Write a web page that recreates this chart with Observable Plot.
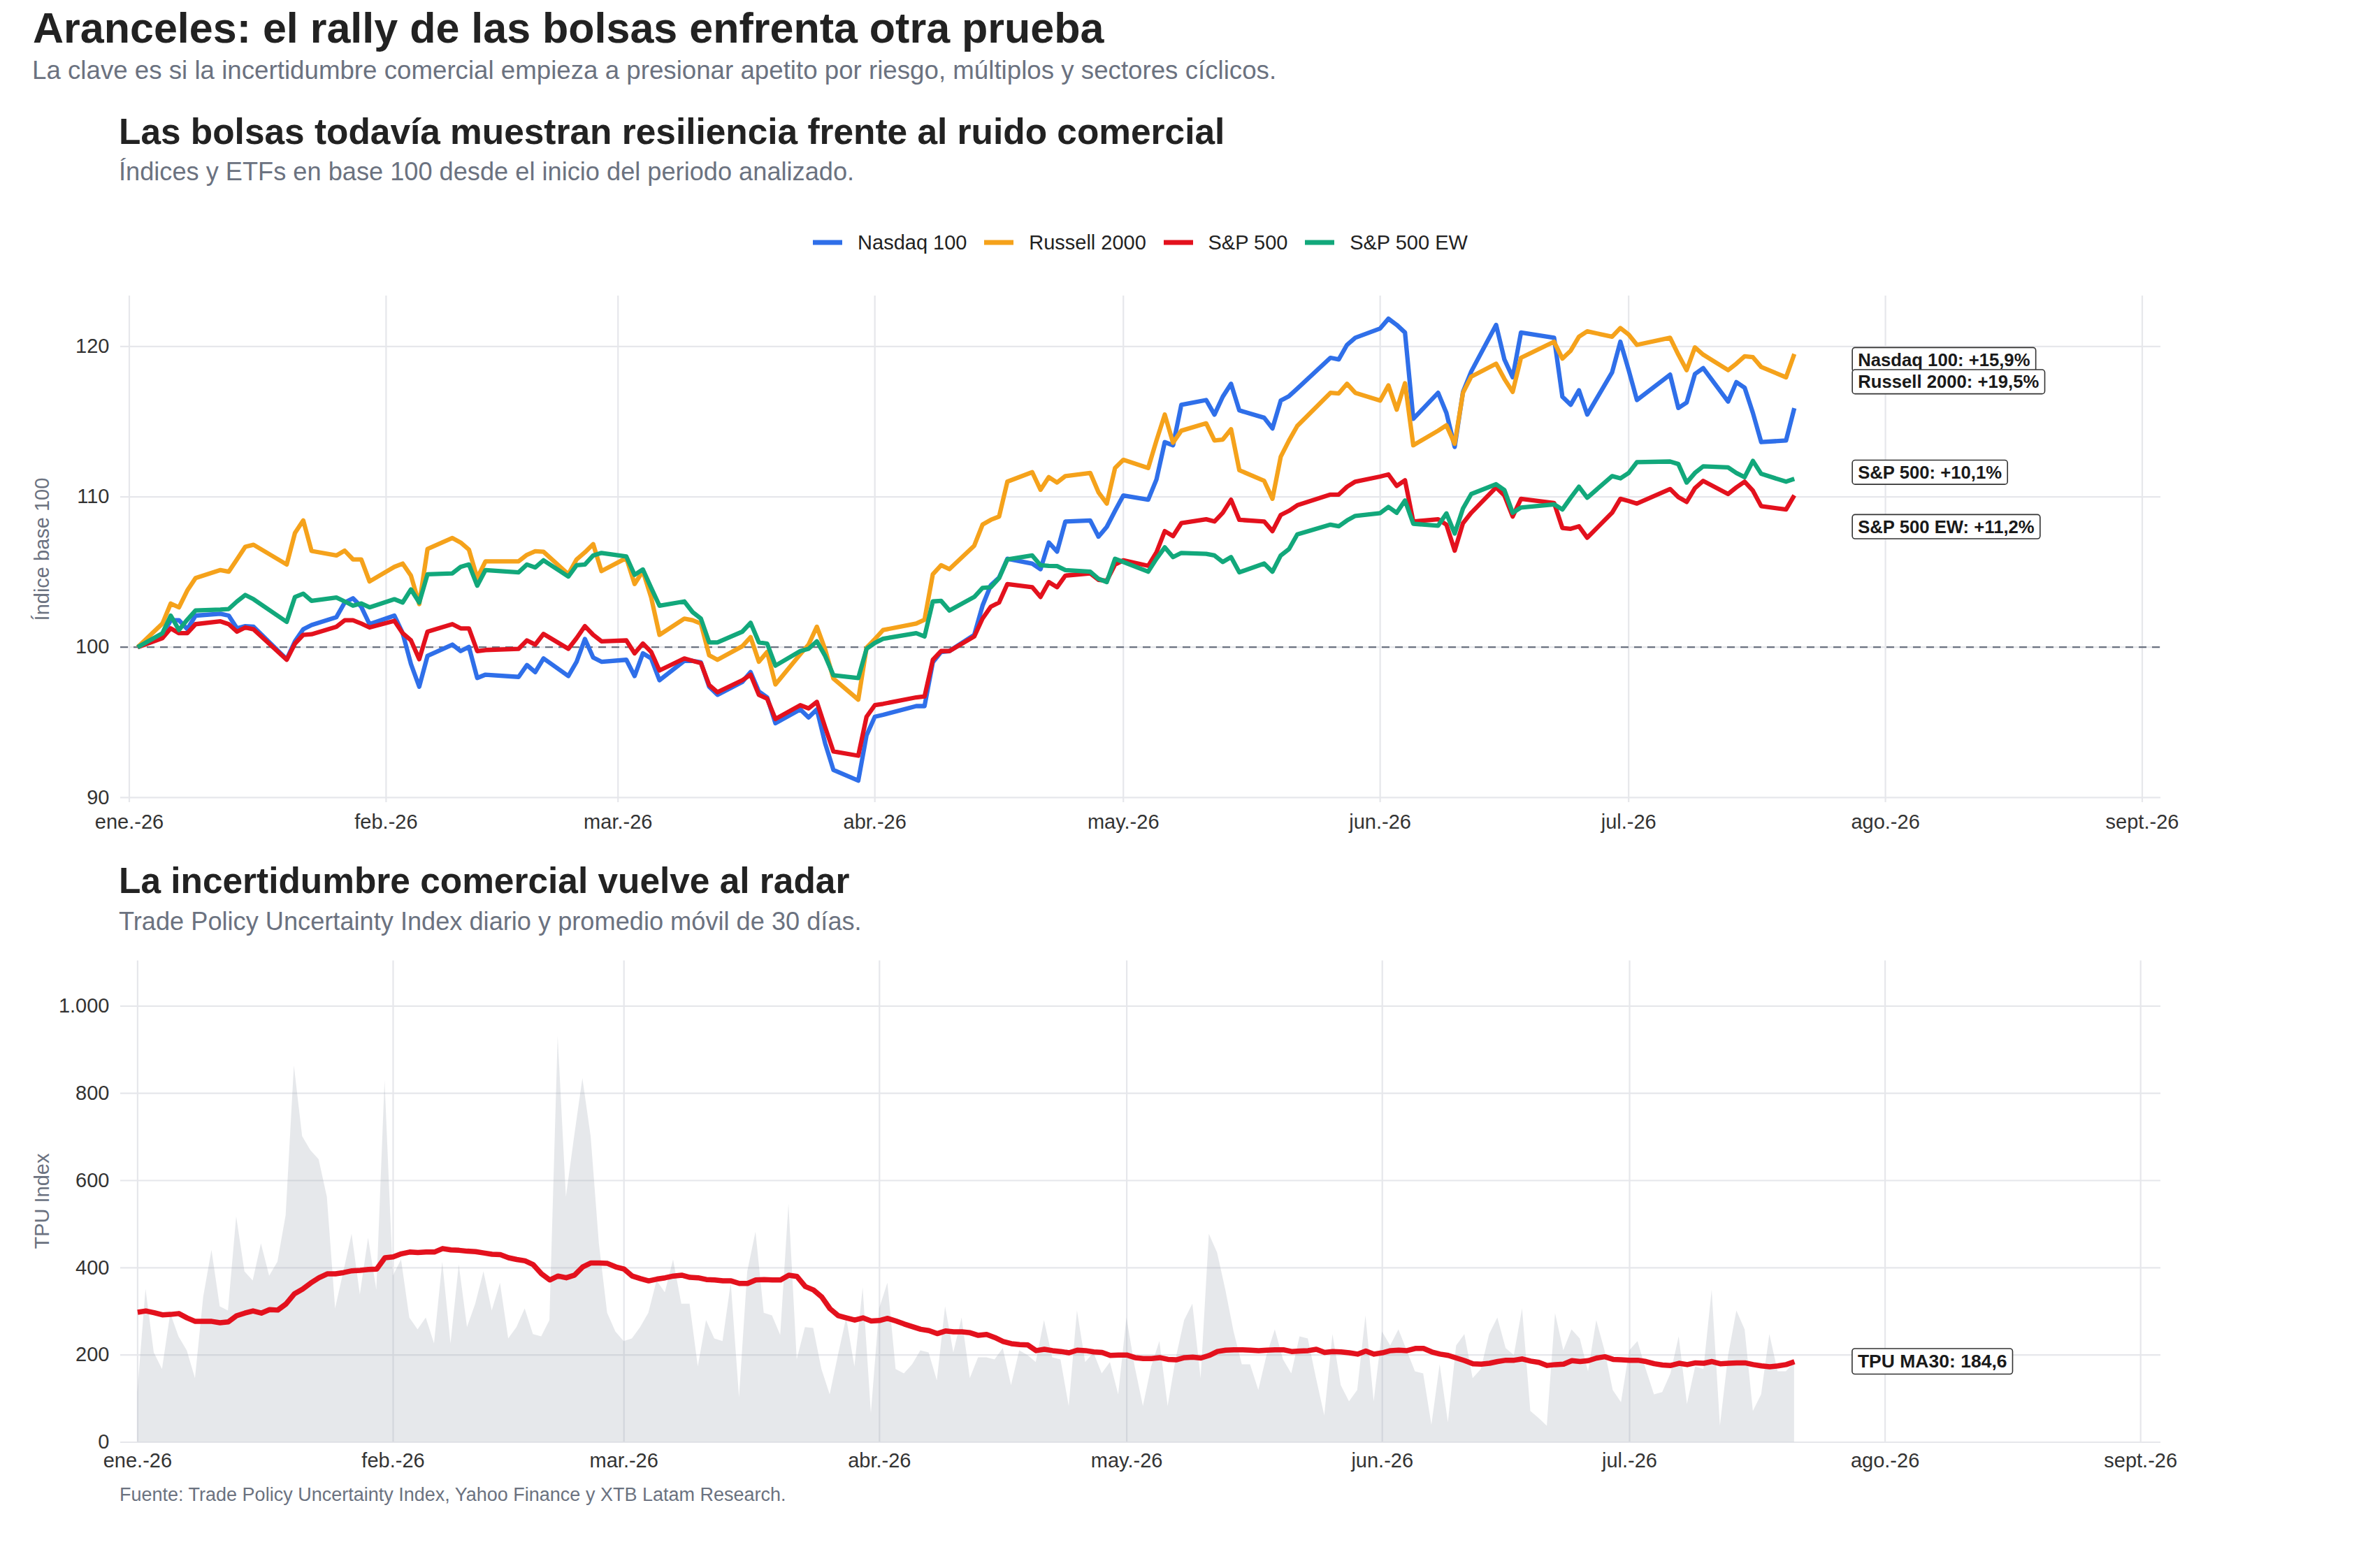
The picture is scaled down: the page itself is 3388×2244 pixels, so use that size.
<!DOCTYPE html>
<html lang="es">
<head>
<meta charset="utf-8">
<title>Aranceles: el rally de las bolsas enfrenta otra prueba</title>
<script src="https://cdn.jsdelivr.net/npm/d3@7"></script>
<script src="https://cdn.jsdelivr.net/npm/@observablehq/plot@0.6"></script>
<style>
  html, body { margin: 0; padding: 0; background: #fff; }
  #page {
    position: relative; width: 3388px; height: 2244px; background: #fff; overflow: hidden;
    font-family: "Liberation Sans", Arial, Helvetica, sans-serif; color: #222;
  }
  .t { position: absolute; white-space: nowrap; line-height: 1; }
  .title { left: 47px; top: 10.4px; font-size: 61px; font-weight: bold; color: #222; }
  .subtitle { left: 46px; top: 83.2px; font-size: 36.7px; color: #6b7280; }
  .ptitle { left: 170px; font-size: 51.4px; font-weight: bold; color: #222; }
  .psub { left: 170px; font-size: 36.2px; color: #6b7280; }
  .caption { left: 171px; top: 2126.1px; font-size: 27px; color: #6b7280; }
  .ylab { font-size: 29px; color: #6b7280; transform: translate(-50%, -50%) rotate(-90deg); }
  #legend {
    position: absolute; left: 172px; width: 2919px; top: 332.75px; height: 29px;
    display: flex; justify-content: center; align-items: center;
    font-size: 29px; line-height: 1; color: #222;
  }
  #legend .item { display: flex; align-items: center; margin: 0 12.35px; }
  #legend .item svg { margin-right: 22px; display: block; }
  .chart { position: absolute; left: 0; }
</style>
</head>
<body>
<div id="page">
  <div class="t title">Aranceles: el rally de las bolsas enfrenta otra prueba</div>
  <div class="t subtitle">La clave es si la incertidumbre comercial empieza a presionar apetito por riesgo, múltiplos y sectores cíclicos.</div>

  <div class="t ptitle" style="top:162.5px">Las bolsas todavía muestran resiliencia frente al ruido comercial</div>
  <div class="t psub" style="top:228.4px">Índices y ETFs en base 100 desde el inicio del periodo analizado.</div>
  <div id="legend"></div>
  <div class="t ylab" style="left:60px; top:785.5px">Índice base 100</div>
  <div id="chart-top" class="chart" style="top:400px"></div>

  <div class="t ptitle" style="top:1234.5px">La incertidumbre comercial vuelve al radar</div>
  <div class="t psub" style="top:1301.2px">Trade Policy Uncertainty Index diario y promedio móvil de 30 días.</div>
  <div class="t ylab" style="left:60px; top:1719px">TPU Index</div>
  <div id="chart-bottom" class="chart" style="top:1350px"></div>

  <div class="t caption">Fuente: Trade Policy Uncertainty Index, Yahoo Finance y XTB Latam Research.</div>
</div>

<script>
// ---------------------------------------------------------------------------
// Data
// ---------------------------------------------------------------------------

// Trading sessions (US market calendar, 2026)
const sessions = [
  "2026-01-02","2026-01-05","2026-01-06","2026-01-07","2026-01-08","2026-01-09","2026-01-12","2026-01-13","2026-01-14","2026-01-15","2026-01-16","2026-01-20","2026-01-21","2026-01-22","2026-01-23","2026-01-26","2026-01-27","2026-01-28","2026-01-29","2026-01-30",
  "2026-02-02","2026-02-03","2026-02-04","2026-02-05","2026-02-06","2026-02-09","2026-02-10","2026-02-11","2026-02-12","2026-02-13","2026-02-17","2026-02-18","2026-02-19","2026-02-20","2026-02-23","2026-02-24","2026-02-25","2026-02-26","2026-02-27",
  "2026-03-02","2026-03-03","2026-03-04","2026-03-05","2026-03-06","2026-03-09","2026-03-10","2026-03-11","2026-03-12","2026-03-13","2026-03-16","2026-03-17","2026-03-18","2026-03-19","2026-03-20","2026-03-23","2026-03-24","2026-03-25","2026-03-26","2026-03-27","2026-03-30","2026-03-31",
  "2026-04-01","2026-04-02","2026-04-06","2026-04-07","2026-04-08","2026-04-09","2026-04-10","2026-04-13","2026-04-14","2026-04-15","2026-04-16","2026-04-17","2026-04-20","2026-04-21","2026-04-22","2026-04-23","2026-04-24","2026-04-27","2026-04-28","2026-04-29","2026-04-30",
  "2026-05-01","2026-05-04","2026-05-05","2026-05-06","2026-05-07","2026-05-08","2026-05-11","2026-05-12","2026-05-13","2026-05-14","2026-05-15","2026-05-18","2026-05-19","2026-05-20","2026-05-21","2026-05-22","2026-05-26","2026-05-27","2026-05-28","2026-05-29",
  "2026-06-01","2026-06-02","2026-06-03","2026-06-04","2026-06-05","2026-06-08","2026-06-09","2026-06-10","2026-06-11","2026-06-12","2026-06-15","2026-06-16","2026-06-17","2026-06-18","2026-06-22","2026-06-23","2026-06-24","2026-06-25","2026-06-26","2026-06-29","2026-06-30",
  "2026-07-01","2026-07-02","2026-07-06","2026-07-07","2026-07-08","2026-07-09","2026-07-10","2026-07-13","2026-07-14","2026-07-15","2026-07-16","2026-07-17","2026-07-20","2026-07-21"
];

// Index levels rebased to 100 on the first session
const nasdaq100 = [
  100, 100.8, 101.79, 101.79, 101.2, 102.1, 102.22, 102.1, 101.25, 101.4, 101.36, 99.2, 100.39, 101.19, 101.47, 102.0, 102.97, 103.25, 102.69, 101.53,
  102.1, 100.93, 98.88, 97.37, 99.42, 100.17, 99.74, 100.02, 97.95, 98.17, 98.02, 98.81, 98.34, 99.25, 98.08, 99.03, 100.54, 99.31, 99.03,
  99.16, 98.08, 99.59, 99.25, 97.8, 99.09, 99.09, 98.99, 97.37, 96.83, 97.69, 98.34, 97.05, 96.66, 94.94, 95.86, 95.32, 95.86, 93.6, 91.83, 91.12, 94.14,
  95.37, 95.5, 96.08, 96.08, 98.99, 99.68, 99.74, 100.82, 102.76, 104.12, 104.63, 105.88, 105.56, 105.19, 106.96, 106.36, 108.36, 108.43, 107.35, 108.0, 109.07,
  110.09, 109.81, 111.16, 113.64, 113.43, 116.12, 116.44, 115.47, 116.66, 117.52, 115.75, 115.26, 114.55, 116.4, 116.7, 117.2, 119.25, 119.14, 120.11, 120.58,
  121.2, 121.85, 121.44, 120.93, 115.19, 116.92, 115.58, 113.32, 116.98, 118.34, 121.44, 119.14, 117.95, 120.93, 120.58, 116.66, 116.12, 117.09, 115.47, 118.28, 120.32,
  118.43, 116.44, 118.13, 115.91, 116.27, 118.17, 118.56, 116.34, 117.63, 117.26, 115.58, 113.64, 113.75, 115.9
];
const russell2000 = [
  100, 101.57, 102.9, 102.65, 103.77, 104.6, 105.13, 105.02, 105.84, 106.68, 106.81, 105.5, 107.6, 108.43, 106.4, 106.1, 106.42, 105.84, 105.84, 104.37,
  105.34, 105.56, 104.76, 102.87, 106.53, 107.26, 106.96, 106.49, 104.6, 105.71, 105.71, 106.14, 106.38, 106.35, 104.85, 105.84, 106.31, 106.85, 105.06,
  105.93, 104.2, 105.06, 103.3, 100.82, 101.9, 101.79, 101.57, 99.46, 99.16, 100.06, 100.67, 99.03, 99.68, 97.52, 99.53, 100.17, 101.36, 99.85, 97.91, 96.51, 99.96,
  100.54, 101.14, 101.57, 101.83, 104.85, 105.45, 105.19, 106.75, 108.15, 108.47, 108.69, 111.01, 111.64, 110.47, 111.31, 110.95, 111.38, 111.59, 110.3, 109.55, 111.92,
  112.46, 111.92, 113.75, 115.47, 113.6, 114.4, 114.89, 113.75, 113.81, 114.5, 111.77, 111.06, 109.87, 112.67, 113.75, 114.72, 116.92, 116.88, 117.52, 116.92,
  116.4, 117.41, 115.8, 117.56, 113.43, 114.4, 114.76, 113.53, 116.92, 118.0, 118.86, 117.84, 116.98, 119.25, 120.32, 119.2, 119.72, 120.65, 121.01, 120.65, 121.23,
  120.8, 120.11, 120.58, 119.46, 118.43, 119.94, 119.46, 118.43, 118.86, 119.35, 119.29, 118.64, 117.95, 119.5
];
const sp500 = [
  100, 100.6, 101.25, 100.93, 100.93, 101.53, 101.72, 101.53, 101.03, 101.31, 101.19, 99.16, 100.24, 100.82, 100.86, 101.36, 101.79, 101.79, 101.57, 101.31,
  101.75, 100.93, 100.45, 99.2, 101.03, 101.53, 101.25, 101.25, 99.74, 99.81, 99.89, 100.45, 100.17, 100.88, 99.89, 100.6, 101.4, 100.82, 100.39,
  100.45, 99.59, 100.24, 99.68, 98.45, 99.25, 99.09, 98.94, 97.48, 97.0, 97.8, 98.17, 96.83, 96.57, 95.22, 96.14, 95.93, 96.36, 94.68, 93.06, 92.78, 95.37,
  96.14, 96.23, 96.66, 96.72, 99.16, 99.74, 99.74, 100.71, 101.9, 102.69, 102.97, 104.2, 103.99, 103.34, 104.33, 103.99, 104.76, 104.91, 104.48, 104.42, 105.5,
  105.78, 105.41, 106.31, 107.72, 107.39, 108.25, 108.51, 108.36, 108.94, 109.81, 108.47, 108.36, 107.72, 108.79, 109.07, 109.44, 110.15, 110.15, 110.67, 111.01,
  111.35, 111.49, 110.73, 111.1, 108.36, 108.51, 108.15, 106.42, 108.25, 108.94, 110.63, 110.09, 108.69, 109.87, 109.59, 107.93, 107.87, 108.04, 107.28, 108.94, 109.87,
  109.72, 109.55, 110.52, 109.98, 109.66, 110.58, 111.06, 110.19, 110.63, 111.01, 110.41, 109.38, 109.16, 110.1
];
const sp500ew = [
  100, 100.93, 102.1, 101.14, 101.83, 102.44, 102.5, 102.54, 103.04, 103.47, 103.19, 101.68, 103.34, 103.56, 103.08, 103.3, 103.04, 102.76, 102.91, 102.65,
  103.19, 102.97, 103.84, 102.97, 104.85, 104.91, 105.34, 105.5, 104.09, 105.13, 104.98, 105.5, 105.3, 105.78, 104.7, 105.45, 105.5, 106.1, 106.27,
  106.03, 104.81, 105.17, 103.94, 102.76, 103.04, 102.33, 101.9, 100.32, 100.32, 101.03, 101.62, 100.32, 100.24, 98.77, 99.74, 99.89, 100.39, 99.42, 98.13, 97.95, 99.89,
  100.28, 100.56, 100.93, 100.71, 103.04, 103.08, 102.44, 103.34, 103.94, 103.99, 104.59, 105.84, 106.1, 105.45, 105.41, 105.39, 105.13, 105.02, 104.55, 104.33, 105.88,
  105.67, 105.02, 105.88, 106.64, 105.99, 106.27, 106.21, 106.1, 105.67, 105.99, 104.98, 105.56, 105.02, 106.1, 106.53, 107.5, 108.15, 108.04, 108.43, 108.73,
  108.92, 109.33, 108.94, 109.76, 108.21, 108.08, 108.9, 107.56, 109.22, 110.19, 110.84, 110.45, 108.94, 109.29, 109.5, 109.16, 109.94, 110.67, 109.94, 111.38, 111.23,
  111.59, 112.31, 112.35, 112.18, 110.95, 111.59, 112.03, 111.96, 111.59, 111.31, 112.39, 111.53, 111.01, 111.2
];

const seriesNames = ["Nasdaq 100", "Russell 2000", "S&P 500", "S&P 500 EW"];
const seriesValues = [nasdaq100, russell2000, sp500, sp500ew];

// Trade Policy Uncertainty Index, one value per calendar day from 2026-01-01
const tpuStart = "2026-01-01";
const tpuDaily = [
  114, 351, 205, 167, 295, 242, 210, 146, 333, 440,
  311, 301, 517, 391, 370, 455, 381, 413, 520, 863,
  701, 669, 648, 562, 306, 391, 477, 338, 468, 349,
  829, 381, 418, 285, 258, 285, 226, 413, 226, 407,
  263, 317, 391, 301, 365, 237, 263, 306, 247, 242,
  279, 930, 562, 701, 834, 701, 455, 296, 253, 231,
  237, 263, 296, 370, 343, 418, 317, 317, 173, 279,
  237, 231, 365, 103, 391, 482, 296, 290, 245, 546,
  189, 263, 261, 167, 109, 199, 285, 173, 354, 66,
  306, 365, 167, 157, 178, 210, 205, 141, 311, 205,
  285, 146, 194, 194, 189, 215, 130, 210, 199, 183,
  279, 194, 189, 82, 301, 183, 205, 157, 183, 109,
  285, 173, 82, 173, 231, 82, 194, 279, 317, 146,
  477, 434, 349, 253, 178, 178, 119, 199, 258, 189,
  157, 242, 237, 146, 61, 247, 130, 93, 119, 290,
  93, 253, 221, 258, 210, 162, 157, 39, 178, 45,
  221, 247, 146, 167, 247, 285, 215, 199, 306, 71,
  55, 37, 295, 210, 258, 237, 162, 279, 210, 119,
  91, 210, 231, 167, 109, 114, 157, 242, 87, 173,
  167, 349, 37, 199, 301, 258, 71, 109, 247, 162,
  162, 183
];
// 30-day moving average of the index, same calendar days
const tpuMa30 = [
  298, 301, 297, 292, 293, 295, 285, 277, 277, 277,
  274, 276, 290, 296, 301, 296, 304, 303, 317, 340,
  351, 365, 377, 386, 386, 389, 393, 394, 396, 397,
  423, 425, 432, 436, 435, 436, 436, 444, 441, 440,
  438, 437, 434, 431, 430, 423, 419, 416, 407, 386,
  372, 381, 377, 383, 402, 411, 411, 410, 402, 397,
  381, 375, 370, 374, 377, 381, 383, 378, 377, 373,
  372, 370, 370, 364, 364, 372, 373, 372, 372, 383,
  380, 357, 349, 333, 306, 290, 285, 280, 285, 278,
  279, 284, 278, 271, 265, 259, 256, 249, 255, 253,
  253, 251, 245, 247, 240, 231, 226, 224, 223, 210,
  213, 210, 208, 205, 211, 210, 207, 206, 199, 200,
  200, 194, 192, 192, 194, 190, 189, 194, 195, 193,
  199, 208, 211, 212, 212, 211, 210, 211, 212, 212,
  208, 209, 210, 213, 206, 208, 207, 205, 202, 209,
  202, 205, 210, 211, 210, 215, 215, 207, 202, 199,
  193, 187, 180, 179, 181, 185, 188, 188, 191, 186,
  183, 176, 178, 179, 187, 185, 187, 193, 196, 190,
  189, 188, 188, 185, 180, 177, 176, 181, 178, 182,
  181, 185, 180, 181, 182, 182, 178, 175, 173, 175,
  178, 184.6
];

// Axis ticks
const monthStarts = ["2026-01-01","2026-02-01","2026-03-01","2026-04-01","2026-05-01","2026-06-01","2026-07-01","2026-08-01","2026-09-01"];
const monthLabels = ["ene.-26","feb.-26","mar.-26","abr.-26","may.-26","jun.-26","jul.-26","ago.-26","sept.-26"];
const indexTicks = [90, 100, 110, 120];
const tpuTicks = [0, 200, 400, 600, 800, 1000];

// ---------------------------------------------------------------------------
// Styling and layout
// ---------------------------------------------------------------------------
const seriesColors = ["#2f6fe9", "#f5a21b", "#e3111d", "#12a87b"];
const gridColor = "#e6e7eb";
const labelDate = new Date("2026-07-28");
// End-label anchors (index units), spread apart so the boxes do not collide
const endLabelY = [119.09, 117.62, 111.6, 107.98];

const esLocale = d3.formatLocale({decimal: ",", thousands: ".", grouping: [3], currency: ["", " €"]});
const fmtPct = esLocale.format("+.1f");
const fmtOne = esLocale.format(".1f");
const fmtThousands = esLocale.format(",");

const parse = s => new Date(s);
const ticksX = monthStarts.map(parse);
const fontFamily = '"Liberation Sans", Arial, Helvetica, sans-serif';

// ---------------------------------------------------------------------------
// Legend
// ---------------------------------------------------------------------------
const legend = document.getElementById("legend");
seriesNames.forEach((name, i) => {
  const item = document.createElement("span");
  item.className = "item";
  const ns = "http://www.w3.org/2000/svg";
  const sw = document.createElementNS(ns, "svg");
  sw.setAttribute("width", 42); sw.setAttribute("height", 10);
  const ln = document.createElementNS(ns, "line");
  ln.setAttribute("x1", 0); ln.setAttribute("x2", 42);
  ln.setAttribute("y1", 5); ln.setAttribute("y2", 5);
  ln.setAttribute("stroke", seriesColors[i]); ln.setAttribute("stroke-width", 7);
  sw.appendChild(ln);
  const tx = document.createElement("span");
  tx.textContent = name;
  item.appendChild(sw); item.appendChild(tx);
  legend.appendChild(item);
});

// Draws a rounded white box behind every text of the chart's text mark
function boxLabels(svg, padX, padY) {
  const ns = "http://www.w3.org/2000/svg";
  svg.querySelectorAll('g[aria-label="text"] text').forEach(t => {
    const b = t.getBBox();
    const r = document.createElementNS(ns, "rect");
    r.setAttribute("x", b.x - padX);
    r.setAttribute("y", b.y - padY);
    r.setAttribute("width", b.width + 2 * padX);
    r.setAttribute("height", b.height + 2 * padY);
    r.setAttribute("rx", 4);
    r.setAttribute("fill", "#fff");
    r.setAttribute("stroke", "#333");
    r.setAttribute("stroke-width", 1.6);
    const tr = t.getAttribute("transform");
    if (tr) r.setAttribute("transform", tr);
    t.parentNode.insertBefore(r, t);
  });
}

// ---------------------------------------------------------------------------
// Chart 1: rebased indices
// ---------------------------------------------------------------------------
const indexRows = [];
seriesNames.forEach((name, k) => {
  seriesValues[k].forEach((v, i) => indexRows.push({series: name, date: parse(sessions[i]), value: v}));
});
const endLabels = seriesNames.map((name, k) => {
  const last = seriesValues[k][seriesValues[k].length - 1];
  return {date: labelDate, y: endLabelY[k], text: `${name}: ${fmtPct(last - 100)}%`};
});

const topChart = Plot.plot({
  width: 3388,
  height: 820,
  marginLeft: 172,
  marginRight: 297,
  marginTop: 23,
  marginBottom: 72,
  style: {background: "transparent", fontFamily, fontSize: "29px", color: "#333", overflow: "visible"},
  x: {
    type: "utc",
    domain: [parse("2026-01-01"), parse("2026-09-01")],
    range: [184.5, 3064.5],
    ticks: ticksX,
    tickFormat: d => monthLabels[d.getUTCMonth()],
    tickSize: 0,
    tickPadding: 17.4,
    label: null
  },
  y: {
    domain: [90, 120],
    range: [740.8, 95.4],
    ticks: indexTicks,
    tickSize: 0,
    tickPadding: 16,
    label: null
  },
  color: {domain: seriesNames, range: seriesColors},
  marks: [
    Plot.ruleY(indexTicks, {stroke: gridColor, strokeWidth: 2.2}),
    Plot.ruleX(ticksX, {stroke: gridColor, strokeWidth: 2.2}),
    Plot.ruleY([100], {stroke: "#6b7280", strokeWidth: 2.3, strokeDasharray: "11,8"}),
    Plot.line(indexRows, {
      x: "date", y: "value", z: "series", stroke: "series",
      strokeWidth: 6.3, strokeLinejoin: "round", strokeLinecap: "butt"
    }),
    Plot.text(endLabels, {
      x: "date", y: "y", text: "text",
      textAnchor: "start", dx: 8,
      fontSize: 25.7, fontWeight: "bold", fill: "#1a1a1a"
    })
  ]
});
document.getElementById("chart-top").appendChild(topChart);
boxLabels(topChart, 8, 3.3);

// ---------------------------------------------------------------------------
// Chart 2: Trade Policy Uncertainty Index
// ---------------------------------------------------------------------------
const start = parse(tpuStart);
const tpuRows = tpuDaily.map((v, i) => ({date: d3.utcDay.offset(start, i), value: v}));
const maRows = tpuMa30.map((v, i) => ({date: d3.utcDay.offset(start, i), value: v}));
const maLast = tpuMa30[tpuMa30.length - 1];
const maLabel = [{date: labelDate, y: maLast, text: `TPU MA30: ${fmtOne(maLast)}`}];

const bottomChart = Plot.plot({
  width: 3388,
  height: 800,
  marginLeft: 172,
  marginRight: 297,
  marginTop: 24.4,
  marginBottom: 86.5,
  style: {background: "transparent", fontFamily, fontSize: "29px", color: "#333", overflow: "visible"},
  x: {
    type: "utc",
    domain: [parse("2026-01-01"), parse("2026-09-01")],
    range: [196.4, 3062.2],
    ticks: ticksX,
    tickFormat: d => monthLabels[d.getUTCMonth()],
    tickSize: 0,
    tickPadding: 15.9,
    label: null
  },
  y: {
    domain: [0, 1104],
    ticks: tpuTicks,
    tickFormat: fmtThousands,
    tickSize: 0,
    tickPadding: 16,
    label: null
  },
  marks: [
    Plot.ruleY(tpuTicks, {stroke: gridColor, strokeWidth: 2.2}),
    Plot.ruleX(ticksX, {stroke: gridColor, strokeWidth: 2.2}),
    Plot.areaY(tpuRows, {x: "date", y: "value", fill: "#9ca3af", fillOpacity: 0.25}),
    Plot.line(maRows, {
      x: "date", y: "value", stroke: seriesColors[2],
      strokeWidth: 7.5, strokeLinejoin: "round", strokeLinecap: "butt"
    }),
    Plot.text(maLabel, {
      x: "date", y: "y", text: "text",
      textAnchor: "start", dx: 8,
      fontSize: 26.5, fontWeight: "bold", fill: "#1a1a1a"
    })
  ]
});
document.getElementById("chart-bottom").appendChild(bottomChart);
boxLabels(bottomChart, 8, 3.3);
</script>
</body>
</html>
